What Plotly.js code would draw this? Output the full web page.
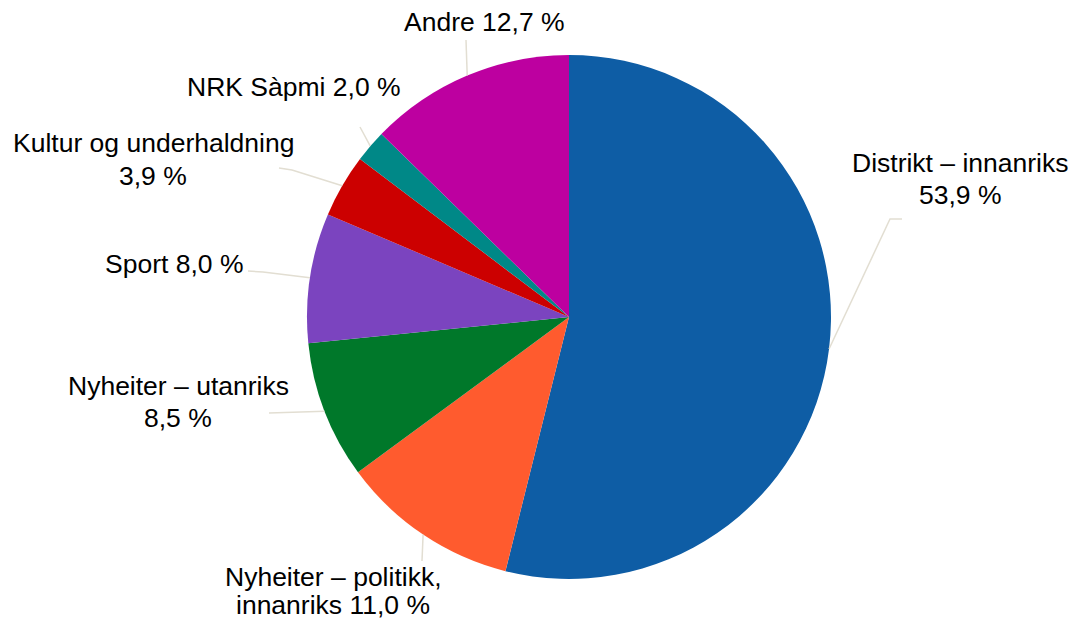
<!DOCTYPE html>
<html>
<head>
<meta charset="utf-8">
<script src="https://cdn.plot.ly/plotly-3.0.1.min.js"></script>
<style>html,body{margin:0;padding:0;background:#fff;}#chart{width:1073px;height:621px;}</style>
</head>
<body>
<div id="chart"></div>
<script>
// Data
const categories = ["Distrikt – innanriks", "Nyheiter – politikk, innanriks", "Nyheiter – utanriks", "Sport", "Kultur og underhaldning", "NRK Sàpmi", "Andre"];
const values = [53.9, 11.0, 8.5, 8.0, 3.9, 2.0, 12.7];
const labelLines = [["Distrikt – innanriks", "53,9 %"], ["Nyheiter – politikk,", "innanriks 11,0 %"], ["Nyheiter – utanriks", "8,5 %"], ["Sport 8,0 %"], ["Kultur og underhaldning", "3,9 %"], ["NRK Sàpmi 2,0 %"], ["Andre 12,7 %"]];

// Styling / layout
const colors = ["#0E5DA5", "#FF5B2E", "#00782A", "#7B44BF", "#CC0000", "#008887", "#BD00A0"];
const W = 1073, H = 621;
const cx = 569, cy = 317, R = 262;
const labelX = [960, 333, 178, 174, 153, 294, 484];
const labelY = [[163, 195], [577, 605], [386, 418], [264], [143, 176], [87], [22]];
const leaderStart = [[[902, 219], [890, 219]], [[422, 561]], [[269, 413]], [[248, 271], [263, 272]], [[279, 168], [292, 170]], [[360, 127]], [[466, 40]]];

const px = x => x / W, py = y => 1 - y / H;

const total = values.reduce((a, b) => a + b, 0);
let cum = 0;
const shapes = [];
const annotations = [];
values.forEach((v, i) => {
  const mid = (cum + v / 2) / total * 2 * Math.PI;
  cum += v;
  const ex = cx + R * Math.sin(mid), ey = cy - R * Math.cos(mid);
  const pts = leaderStart[i].concat([[ex, ey]]);
  let path = "";
  pts.forEach((p, k) => { path += (k === 0 ? "M " : " L ") + px(p[0]) + "," + py(p[1]); });
  shapes.push({type: "path", xref: "paper", yref: "paper", path: path, line: {color: "#E2DED2", width: 1.5}});
  labelLines[i].forEach((t, k) => {
    annotations.push({
      text: t, x: px(labelX[i]), y: py(labelY[i][k]), xref: "paper", yref: "paper",
      xanchor: "center", yanchor: "middle", align: "center", showarrow: false, borderpad: 0,
      font: {family: "Liberation Sans, Arial, sans-serif", size: 26.5, color: "#000"}
    });
  });
});

const trace = {
  type: "pie", labels: categories, values: values, sort: false, direction: "clockwise", rotation: 0,
  marker: {colors: colors, line: {width: 0}}, textinfo: "none", hoverinfo: "skip",
  domain: {x: [(cx - R) / W, (cx + R) / W], y: [1 - (cy + R) / H, 1 - (cy - R) / H]}
};

Plotly.newPlot("chart", [trace], {
  width: W, height: H, margin: {l: 0, r: 0, t: 0, b: 0}, showlegend: false,
  paper_bgcolor: "#fff", shapes: shapes, annotations: annotations
}, {displayModeBar: false, staticPlot: true});
</script>
</body>
</html>
